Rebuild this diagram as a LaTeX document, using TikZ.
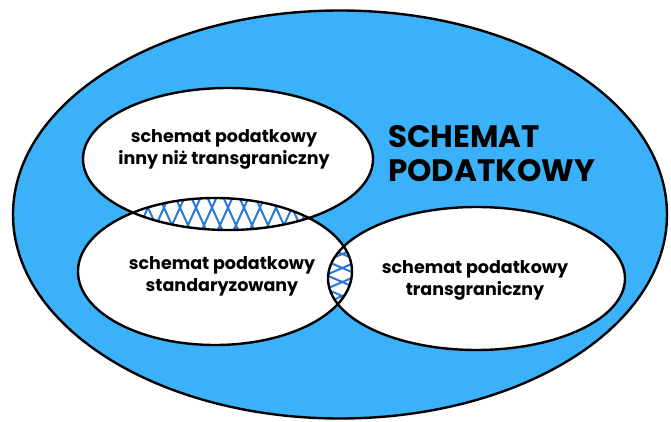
\documentclass[tikz,border=0pt]{standalone}
\usepackage{fontspec}
\setmainfont{Poppins}
\definecolor{skyfill}{RGB}{58,177,248}
\definecolor{hatchblue}{RGB}{40,122,214}
\tikzset{
  setborder/.style={draw=black, line width=2.4pt},
  hatchline/.style={draw=hatchblue, line width=2pt},
  smalltxt/.style={font=\bfseries\fontsize{17.5}{22}\selectfont, align=center, inner sep=0pt},
  bigtxt/.style={font=\bfseries\fontsize{31}{34}\selectfont, align=left, inner sep=0pt, anchor=west}
}
\begin{document}
\begin{tikzpicture}[x=1pt,y=-1pt]
\useasboundingbox (0,0) rectangle (671,422);
% outer set
\path[fill=skyfill, setborder] (340,214.5) ellipse [x radius=327, y radius=204];
% inner sets (white)
\fill[white] (228,159) ellipse [x radius=145, y radius=71];
\fill[white] (215,271.5) ellipse [x radius=137, y radius=73.5];
\fill[white] (476.5,278.5) ellipse [x radius=148.5, y radius=71.5];
% hatch: top & left
\begin{scope}
  \clip (228,159) ellipse [x radius=145, y radius=71];
  \clip (215,271.5) ellipse [x radius=137, y radius=73.5];
  \foreach \i in {60,76,...,420} {
    \draw[hatchline] (\i,190) -- ++(25,55);
    \draw[hatchline] (\i,190) -- ++(-25,55);
  }
\end{scope}
% hatch: left & right
\begin{scope}
  \clip (215,271.5) ellipse [x radius=137, y radius=73.5];
  \clip (476.5,278.5) ellipse [x radius=148.5, y radius=71.5];
  \foreach \j in {170,184,...,390} {
    \draw[hatchline] (310,\j) -- ++(60,26);
    \draw[hatchline] (310,\j) -- ++(60,-26);
  }
\end{scope}
% borders
\draw[setborder] (228,159) ellipse [x radius=145, y radius=71];
\draw[setborder] (215,271.5) ellipse [x radius=137, y radius=73.5];
\draw[setborder] (476.5,278.5) ellipse [x radius=148.5, y radius=71.5];
% labels
\node[smalltxt] (ta) at (224,149) {schemat podatkowy\\inny niż transgraniczny};
\node[smalltxt] (tb) at (222,276) {schemat podatkowy\\standaryzowany};
\node[smalltxt] (tc) at (475,280) {schemat podatkowy\\transgraniczny};
\node[bigtxt] (tt) at (388,154) {SCHEMAT\\PODATKOWY};
\end{tikzpicture}
\end{document}
